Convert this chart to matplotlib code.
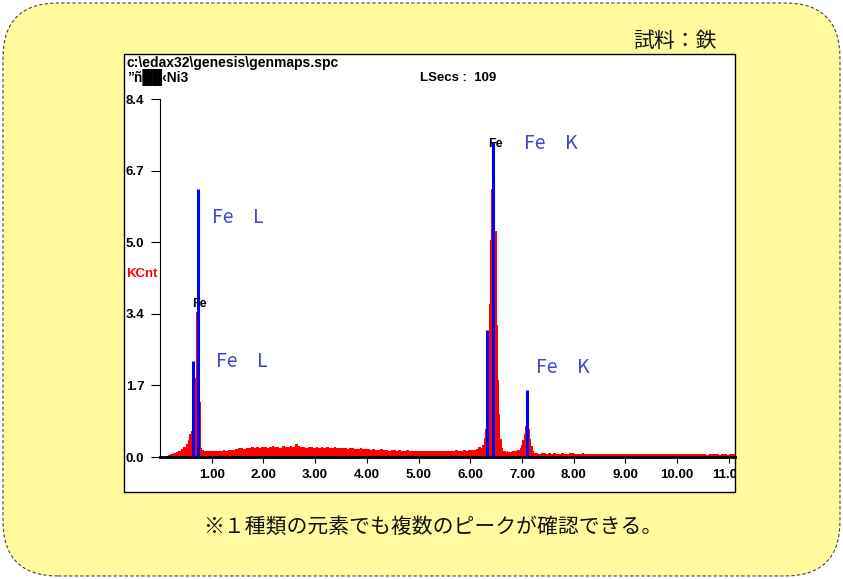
import numpy as np
import matplotlib
matplotlib.use("Agg")
import matplotlib.pyplot as plt
from matplotlib.patches import FancyBboxPatch, Rectangle
from matplotlib.transforms import IdentityTransform

# spectrum segments: (start keV, step keV, KCnt per channel)
seg_low = (0.00, 0.05, [0.00, 0.00, 0.02, 0.04, 0.06, 0.09, 0.12, 0.15, 0.19, 0.24, 0.30])
seg_fe_l = (0.55, 0.02, [0.40, 0.55, 0.60, 0.75, 1.10, 1.75, 1.85, 3.40, 2.00, 1.60,
                         1.45, 1.30, 0.22])
seg_mid = (0.81, 0.05, [
    0.17, 0.15, 0.14, 0.15,
    0.14, 0.15, 0.13, 0.15, 0.16, 0.14, 0.16, 0.17, 0.16, 0.18,
    0.20, 0.21, 0.19, 0.22, 0.21, 0.23, 0.22, 0.24, 0.22, 0.23,
    0.24, 0.22, 0.23, 0.25, 0.23, 0.24, 0.22, 0.25, 0.24, 0.23,
    0.25, 0.24, 0.30, 0.25, 0.23, 0.24, 0.22, 0.23, 0.24, 0.22,
    0.23, 0.22, 0.24, 0.21, 0.23, 0.22, 0.21, 0.23, 0.21, 0.22,
    0.20, 0.21, 0.19, 0.20, 0.21, 0.19, 0.18, 0.20, 0.19, 0.18,
    0.18, 0.17, 0.18, 0.16, 0.17, 0.18, 0.16, 0.17, 0.15, 0.16,
    0.16, 0.15, 0.16, 0.14, 0.15, 0.16, 0.14, 0.15, 0.13, 0.15,
    0.14, 0.13, 0.15, 0.14, 0.13, 0.14, 0.15, 0.13, 0.14, 0.15,
    0.14, 0.15, 0.13, 0.15, 0.16, 0.14, 0.15, 0.16, 0.15, 0.16,
    0.16, 0.17, 0.19, 0.24])
seg_fe_ka = (6.21, 0.025, [0.20, 0.28, 0.45, 0.65, 1.20, 2.50, 3.60, 5.10, 6.30, 7.25,
                           6.60, 5.30, 3.10, 1.80, 1.00, 0.42, 0.20, 0.15, 0.13, 0.12,
                           0.13, 0.12])
seg_gap = (6.76, 0.05, [0.12, 0.13, 0.14, 0.16])
seg_fe_kb = (6.96, 0.025, [0.20, 0.28, 0.40, 0.55, 0.72, 0.86, 0.82, 0.65, 0.42, 0.25,
                           0.15, 0.10])
seg_high = (7.26, 0.05, [
    0.09, 0.08, 0.10, 0.09, 0.08, 0.09, 0.08, 0.09, 0.08, 0.07,
    0.09, 0.08, 0.08, 0.09, 0.10, 0.08, 0.07, 0.08, 0.09, 0.08,
    0.08, 0.07, 0.08, 0.07, 0.08, 0.08, 0.07, 0.08, 0.07, 0.08,
    0.07, 0.08, 0.07, 0.07, 0.08, 0.07, 0.08, 0.07, 0.06, 0.07,
    0.07, 0.06, 0.07, 0.07, 0.06, 0.07, 0.06, 0.07, 0.08, 0.06,
    0.07, 0.06, 0.07, 0.06, 0.07, 0.06, 0.06, 0.07, 0.06, 0.07,
    0.06, 0.07, 0.06, 0.06, 0.07, 0.06, 0.05, 0.06, 0.07, 0.06,
    0.06, 0.05, 0.06, 0.06, 0.05, 0.06, 0.07, 0.06, 0.05, 0.06])
segments = [seg_low, seg_fe_l, seg_mid, seg_fe_ka, seg_gap, seg_fe_kb, seg_high]

# KLM marker lines
marker_kev = [0.64, 0.735, 6.33, 6.45, 7.09]
marker_kcnt = [2.25, 6.28, 2.98, 7.38, 1.57]

# element labels
small_labels = [("Fe", 0.77, 3.59), ("Fe", 6.49, 7.34)]
line_labels = [("Fe\u3000L", 1.00, 5.61), ("Fe\u3000L", 1.08, 2.23),
               ("Fe\u3000K", 7.05, 7.35), ("Fe\u3000K", 7.28, 2.11)]

x_ticks = [1, 2, 3, 4, 5, 6, 7, 8, 9, 10, 11]
x_labels = ["1.00", "2.00", "3.00", "4.00", "5.00", "6.00", "7.00", "8.00", "9.00",
            "10.00", "11.00"]
y_ticks = [0.0, 1.68, 3.36, 5.04, 6.72, 8.4]
y_labels = ["0.0", "1.7", "3.4", "5.0", "6.7", "8.4"]

W, H = 843, 579
ASCII = ["Liberation Sans", "DejaVu Sans"]
JP = ["Noto Sans CJK JP", "DejaVu Sans"]


def fx(px):
    return px / W


def fy(py):
    return 1 - py / H


edges = []
counts = []
for start, step, vals in segments:
    edges.extend(start + step * np.arange(len(vals)))
    counts.extend(vals)
last_start, last_step, last_vals = segments[-1]
edges.append(last_start + last_step * len(last_vals))

fig = plt.figure(figsize=(W / 100, H / 100), dpi=100)
fig.patch.set_facecolor("white")

box = FancyBboxPatch((3, 3), W - 6, H - 6, boxstyle="round,pad=0,rounding_size=55",
                     transform=IdentityTransform(), facecolor="#FFFB9E",
                     edgecolor="#444444", linewidth=0.8, linestyle=(0, (3, 2)), zorder=-3)
fig.add_artist(box)
panel = Rectangle((124, H - 492), 611, 438, transform=IdentityTransform(),
                  facecolor="white", edgecolor="black", linewidth=1.0, zorder=-2)
fig.add_artist(panel)

ax = fig.add_axes([fx(160), fy(457), fx(735) - fx(160), fy(99) - fy(457)])
ax.set_facecolor("none")
ax.stairs(counts, edges, fill=True, color="#FF0000", linewidth=0)
ax.vlines(marker_kev, 0, marker_kcnt, color="#0000FF", linewidth=2.2, zorder=3)

for text, x, y in small_labels:
    ax.text(x, y, text, ha="center", va="center", fontsize=9, fontweight="bold",
            family=ASCII, color="black", zorder=4)
for text, x, y in line_labels:
    ax.text(x, y, text, ha="left", va="center", fontsize=14, family=JP,
            color="#4444CC", zorder=4)

ax.set_xlim(0, 575 / 51.7)
ax.set_ylim(0, 8.4)
for side in ["top", "right"]:
    ax.spines[side].set_visible(False)
ax.spines["left"].set_linewidth(0.8)
ax.spines["bottom"].set_linewidth(2.0)

ax.set_xticks(x_ticks, x_labels)
ax.set_yticks(y_ticks, y_labels)
ax.tick_params(axis="x", direction="out", length=4, width=0.8, pad=5)
ax.tick_params(axis="y", direction="out", length=6.5, width=0.8, pad=18)
for lbl in ax.get_xticklabels():
    lbl.set_fontproperties({"family": ASCII, "weight": "bold", "size": 9.5})
    lbl.set_clip_on(True)
    lbl.set_clip_path(panel)
for lbl in ax.get_yticklabels():
    lbl.set_fontproperties({"family": ASCII, "weight": "bold", "size": 9.5})
    lbl.set_horizontalalignment("left")

fig.text(fx(127), fy(63), r"c:\edax32\genesis\genmaps.spc", ha="left", va="center",
         fontsize=10, fontweight="bold", family=ASCII)
fig.text(fx(127), fy(78), "\u201d\u00f1\u2588\u2588\u2039Ni3", ha="left", va="center",
         fontsize=10, fontweight="bold", family=ASCII)
fig.text(fx(420), fy(78), "LSecs :  109", ha="left", va="center",
         fontsize=9.5, fontweight="bold", family=ASCII)
fig.text(fx(126), fy(274), "KCnt", ha="left", va="center", fontsize=9.5,
         fontweight="bold", family=ASCII, color="#FF0000")
fig.text(fx(633), fy(41), "試料：鉄", ha="left", va="center", fontsize=15,
         family=JP, color="#111111")
fig.text(fx(433), fy(527), "※１種類の元素でも複数のピークが確認できる。", ha="center",
         va="center", fontsize=15, family=JP, color="#111111")

fig.savefig("out.png", dpi=100)
